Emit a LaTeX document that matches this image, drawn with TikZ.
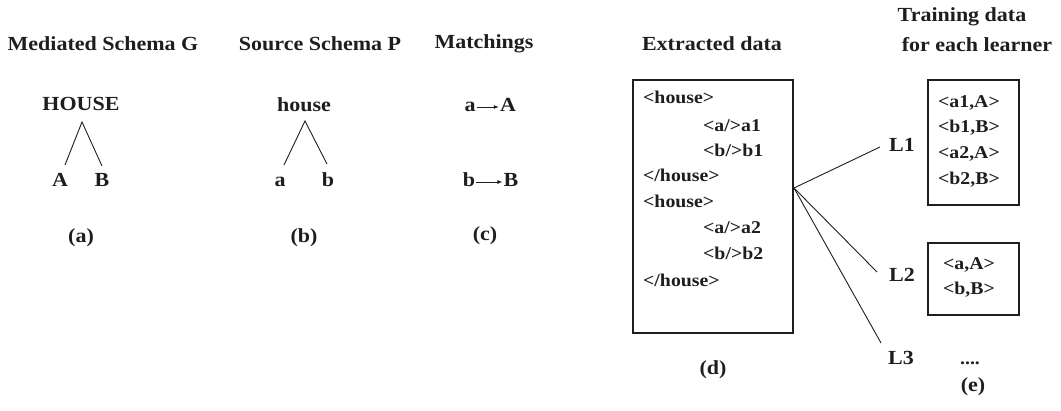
\documentclass[tikz,border=0pt]{standalone}
\usepackage{fontspec}
\setmainfont{Liberation Serif}[FakeStretch=1.1]
\usetikzlibrary{arrows.meta}
\definecolor{ink}{HTML}{1E1E1E}
\begin{document}
\begin{tikzpicture}[x=1pt,y=-1pt,
  ttl/.style={font=\fontsize{20}{24}\selectfont\bfseries, text=ink, inner sep=0pt},
  txt/.style={font=\fontsize{20}{24}\selectfont\bfseries, text=ink, inner sep=0pt, text height=14pt, text depth=4pt},
  small/.style={font=\fontsize{18}{22}\selectfont\bfseries, text=ink, inner sep=0pt, text height=13pt, text depth=4pt},
  edge/.style={draw=ink, line width=0.9pt},
  frame/.style={draw=ink, line width=1.3pt, inner sep=0pt},
  match/.style={draw=ink, line width=0.9pt, shorten <=1pt, shorten >=1pt, -{Latex[length=5pt,width=4pt]}}]
\useasboundingbox (0,0) rectangle (1061,411);
% titles
\node[ttl] (tG) at (103,44) {Mediated Schema G};
\node[ttl] (tP) at (320,44) {Source Schema P};
\node[ttl] (tM) at (484,44) {Matchings};
\node[ttl] (tD) at (712,44) {Extracted data};
\node[ttl] (tE1) at (962,17) {Training data};
\node[ttl] (tE2) at (977,45) {for each learner};
% (a) mediated schema
\node[txt] (HOUSE) at (81,106) {HOUSE};
\node[txt] (A) at (60,182) {A};
\node[txt] (B) at (102,182) {B};
\coordinate (gTop) at (82,122);
\coordinate (gA) at (65,165);
\coordinate (gB) at (102,166);
\draw[edge] (gA) -- (gTop) -- (gB);
\node[txt] (la) at (81,238) {(a)};
% (b) source schema
\node[txt] (house) at (304,107) {house};
\node[txt] (sa) at (280,182) {a};
\node[txt] (sb) at (328,182) {b};
\coordinate (sTop) at (305,121);
\coordinate (sA) at (284,165);
\coordinate (sB) at (327,164);
\draw[edge] (sA) -- (sTop) -- (sB);
\node[txt] (lb) at (304,238) {(b)};
% (c) matchings
\node[txt] (ma) at (470,107) {a};
\node[txt] (mA) at (508,107) {A};
\node[txt] (mb) at (469,182) {b};
\node[txt] (mB) at (511,182) {B};
\draw[match] (ma) -- (mA);
\draw[match] (mb) -- (mB);
\node[txt] (lc) at (485,236) {(c)};
% (d) extracted data
\node[frame, minimum width=160pt, minimum height=253pt] (boxD) at (713,206.5) {};
\node[small, anchor=west] (d1) at (643,99) {<house>};
\node[small, anchor=west] (d2) at (703,127) {<a/>a1};
\node[small, anchor=west] (d3) at (703,152) {<b/>b1};
\node[small, anchor=west] (d4) at (643,177) {</house>};
\node[small, anchor=west] (d5) at (643,203) {<house>};
\node[small, anchor=west] (d6) at (703,229) {<a/>a2};
\node[small, anchor=west] (d7) at (703,255) {<b/>b2};
\node[small, anchor=west] (d8) at (643,282) {</house>};
\node[txt] (ld) at (713,370) {(d)};
% learners
\node[txt] (L1) at (902,147) {L1};
\node[txt] (L2) at (902,277) {L2};
\node[txt] (L3) at (901,360) {L3};
\coordinate (src) at (794,188);
\coordinate (e1) at (880,147);
\coordinate (e2) at (877,272);
\coordinate (e3) at (881,343);
\draw[edge] (src) -- (e1);
\draw[edge] (src) -- (e2);
\draw[edge] (src) -- (e3);
% (e) training data
\node[frame, minimum width=91pt, minimum height=125pt] (boxE1) at (973.5,142.5) {};
\node[small] (t1) at (969,103) {<a1,A>};
\node[small] (t2) at (969,128) {<b1,B>};
\node[small] (t3) at (969,154) {<a2,A>};
\node[small] (t4) at (969,180) {<b2,B>};
\node[frame, minimum width=91pt, minimum height=72pt] (boxE2) at (973.5,279) {};
\node[small] (u1) at (969,265) {<a,A>};
\node[small] (u2) at (969,290) {<b,B>};
\node[small] (dots) at (970,360) {....};
\node[txt] (le) at (973,387) {(e)};
\end{tikzpicture}
\end{document}
